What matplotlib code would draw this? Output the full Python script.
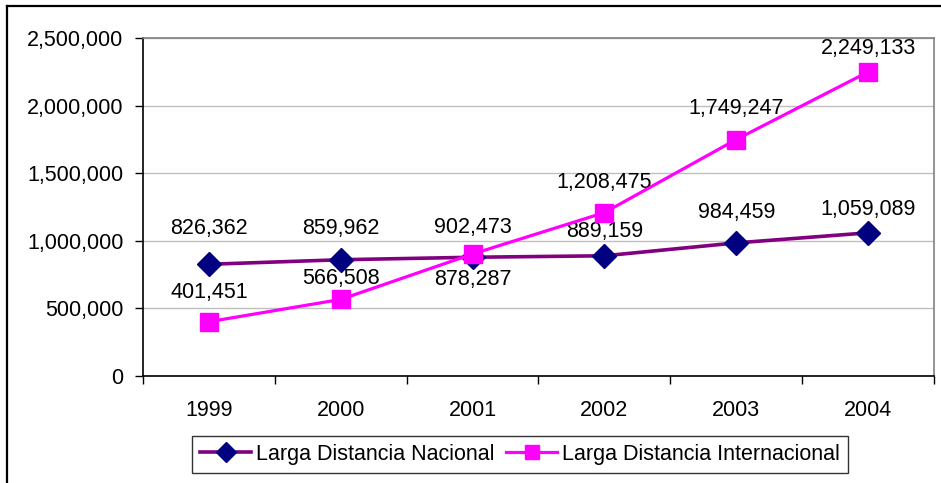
import numpy as np
import matplotlib
matplotlib.use('Agg')
import matplotlib.pyplot as plt
from matplotlib.ticker import FuncFormatter
from matplotlib.lines import Line2D

plt.rcParams['font.family'] = ['Liberation Sans', 'DejaVu Sans']

# data
years = ['1999', '2000', '2001', '2002', '2003', '2004']
nacional = [826362, 859962, 878287, 889159, 984459, 1059089]
internacional = [401451, 566508, 902473, 1208475, 1749247, 2249133]
nombres = ['Larga Distancia Nacional', 'Larga Distancia Internacional']

# label offsets in pixels (most above, one below)
off_nac = [36, 31, -22, 24, 30, 23]
off_int = [29, 21, 26, 30, 31, 23]

fs = 15.5

fig = plt.figure(figsize=(9.41, 4.83), dpi=100)
ax = fig.add_axes([143/941, 1-376/483, (934-143)/941, (376-38)/483])

x = np.arange(len(years))
ax.plot(x, nacional, color='#800080', lw=2.6, marker='D', ms=12,
        mfc='#000080', mec='#000080', label=nombres[0], zorder=3)
ax.plot(x, internacional, color='#FF00FF', lw=2.3, marker='s', ms=12.5,
        mfc='#FF00FF', mec='#FF00FF', label=nombres[1], zorder=4)

for i in range(len(years)):
    ax.annotate(f'{nacional[i]:,}', (x[i], nacional[i]), xytext=(0, off_nac[i]),
                textcoords='offset pixels', ha='center', va='center', fontsize=fs)
    ax.annotate(f'{internacional[i]:,}', (x[i], internacional[i]), xytext=(0, off_int[i]),
                textcoords='offset pixels', ha='center', va='center', fontsize=fs)

ax.set_xlim(-0.5, 5.5)
ax.set_ylim(0, 2500000)
ax.set_yticks(np.arange(0, 2500001, 500000))
ax.yaxis.set_major_formatter(FuncFormatter(lambda v, p: f'{int(v):,}'))
ax.yaxis.grid(True, color='#C0C0C0', lw=1)
ax.set_axisbelow(True)

ax.set_xticks(x)
ax.set_xticklabels(years)
ax.set_xticks(np.arange(-0.5, 6, 1), minor=True)
ax.tick_params(axis='x', which='major', length=0, pad=17, labelsize=fs)
ax.tick_params(axis='x', which='minor', length=6, width=1, direction='out')
ax.tick_params(axis='y', length=6, width=1, direction='out', pad=8, labelsize=fs)

for s in ['top', 'right']:
    ax.spines[s].set_color('#808080')
    ax.spines[s].set_linewidth(1.2)
for s in ['left', 'bottom']:
    ax.spines[s].set_color('black')
    ax.spines[s].set_linewidth(1.2)

leg = fig.legend(loc='center', bbox_to_anchor=(520/941, 1-454.5/483), ncol=2,
                 fontsize=fs, frameon=True, fancybox=False, edgecolor='black',
                 handlelength=2.4, handletextpad=0.23, columnspacing=0.5,
                 borderpad=0.35, borderaxespad=0, markerscale=0.85)
leg.get_frame().set_linewidth(1)

# outer chart border (left and top visible)
fig.add_artist(Line2D([6.5/941, 6.5/941], [0, 1-5.5/483], color='black', lw=1.6))
fig.add_artist(Line2D([6.5/941, 1], [1-5.5/483, 1-5.5/483], color='black', lw=1.6))

fig.savefig('out.png', dpi=100)
